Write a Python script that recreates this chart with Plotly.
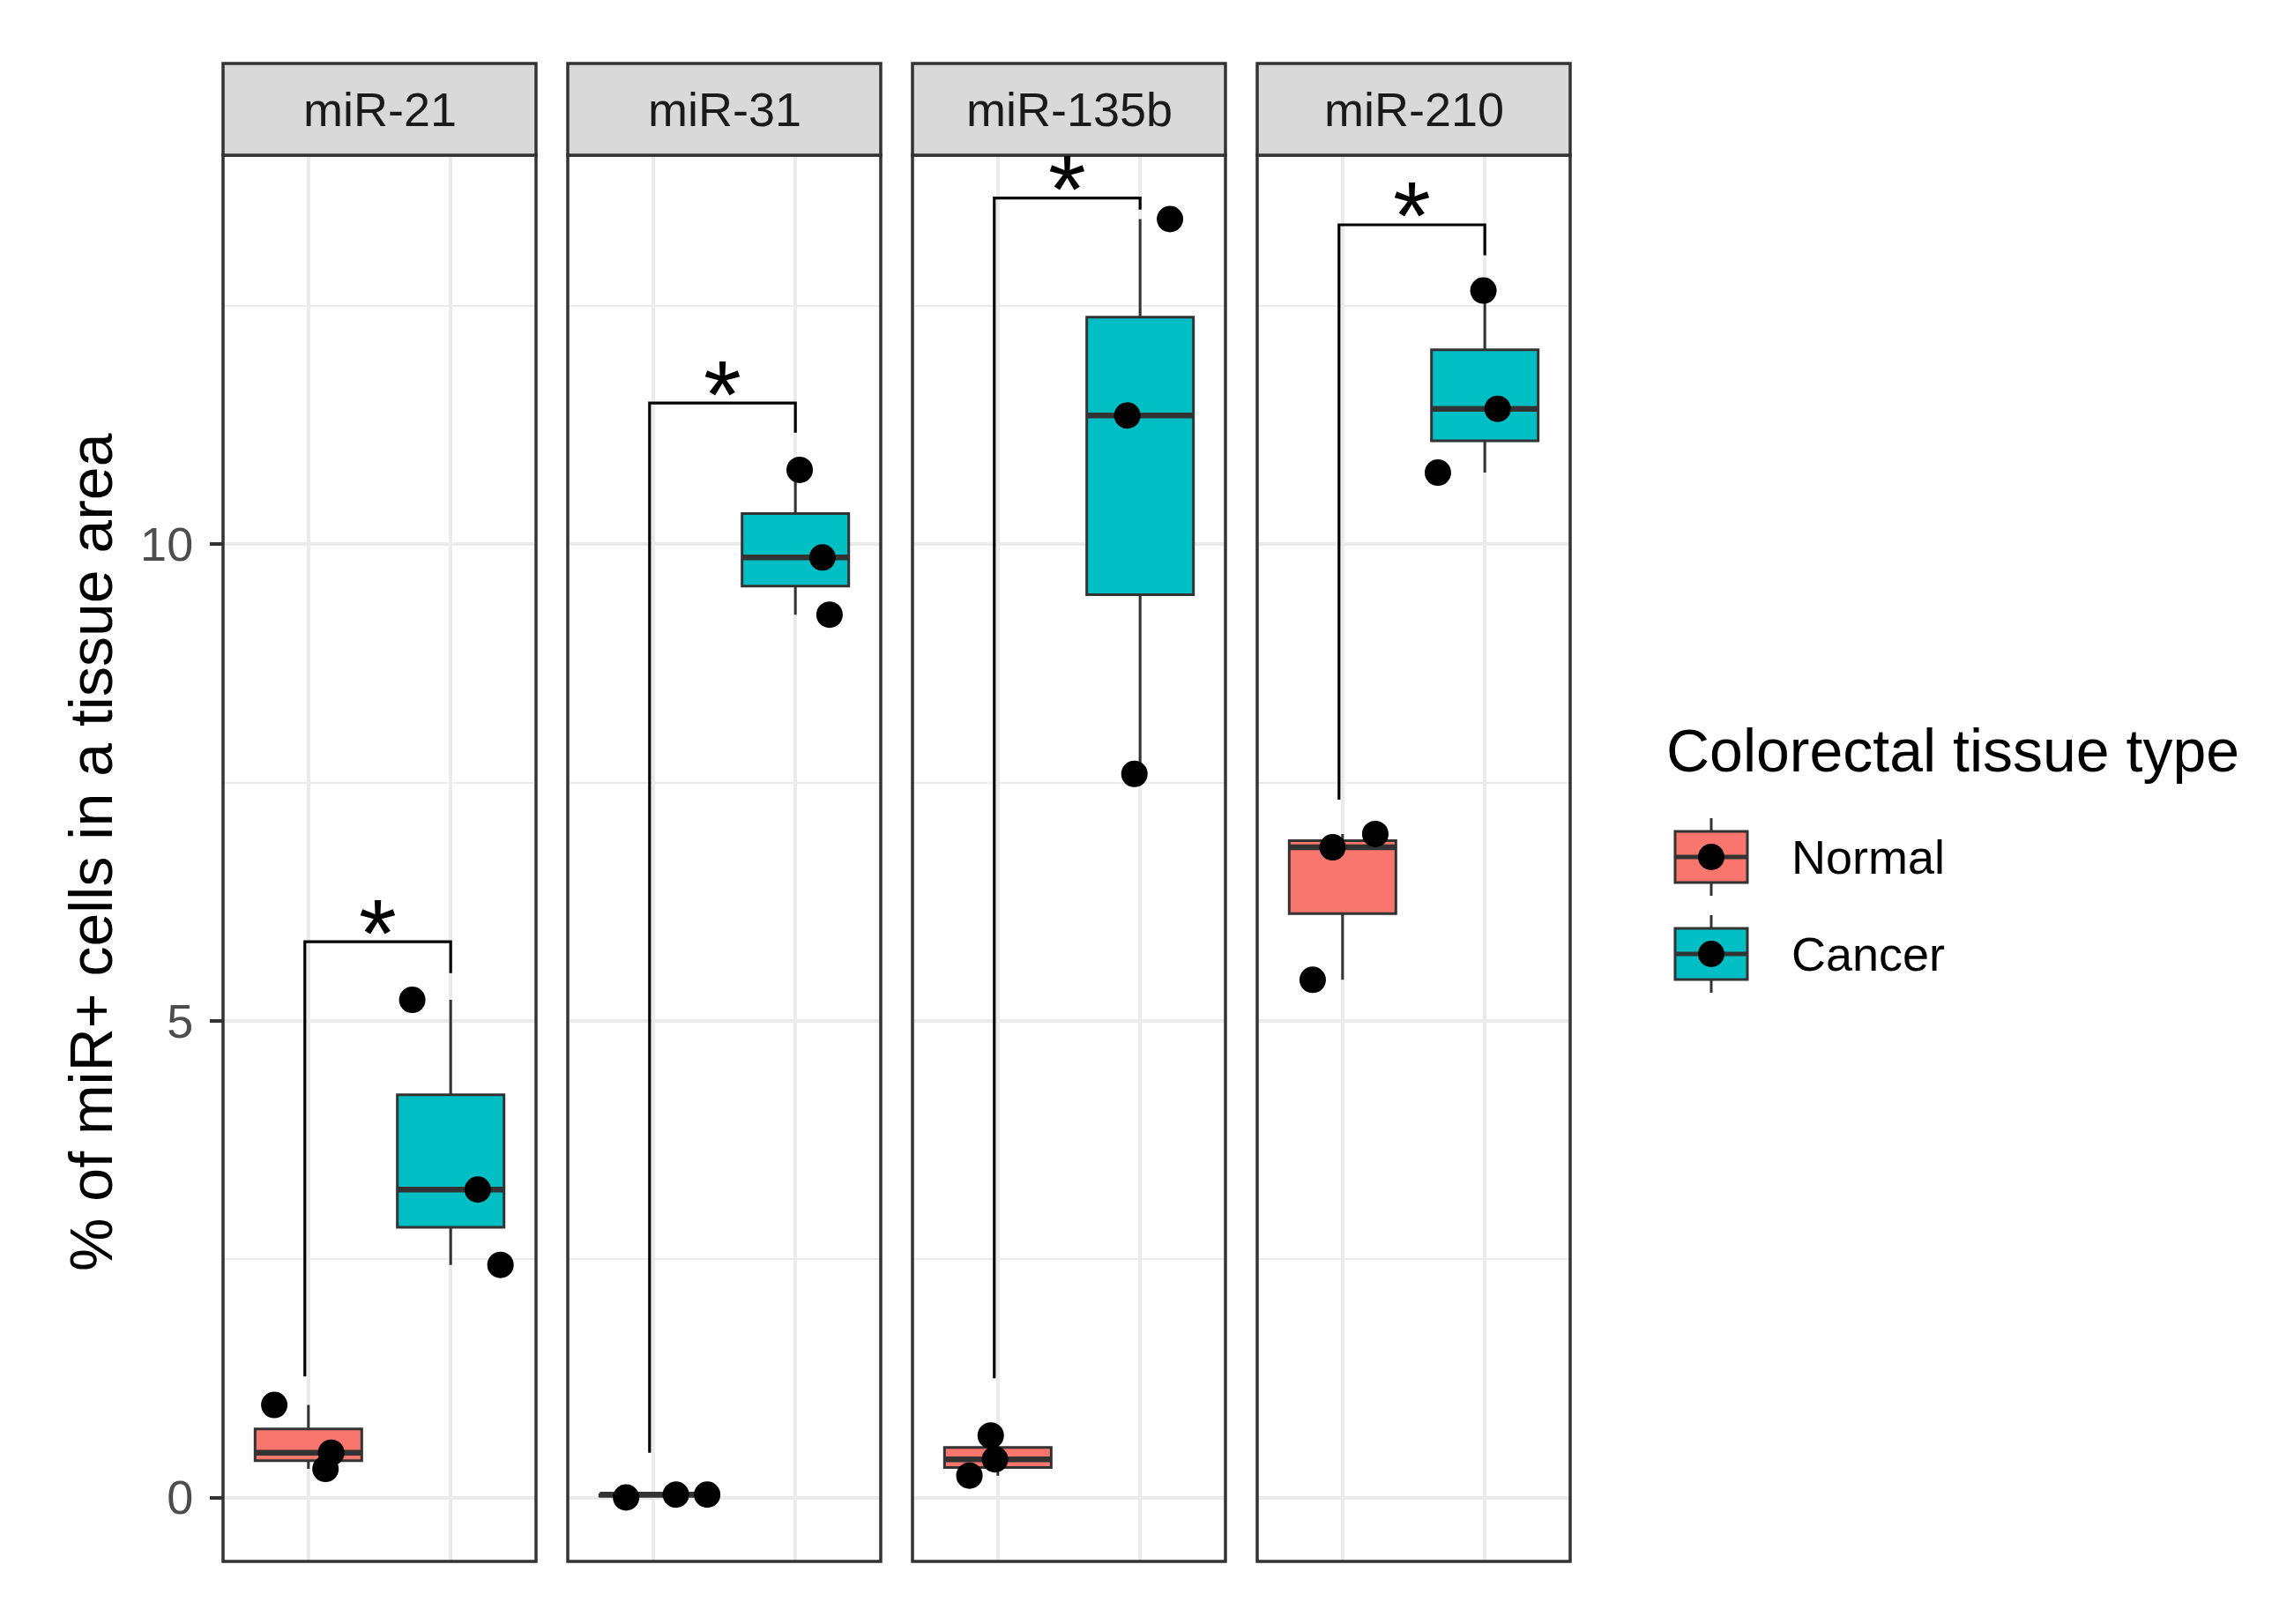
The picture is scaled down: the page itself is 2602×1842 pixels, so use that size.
import numpy as np
import plotly.graph_objects as go

W, H = 2602, 1842

# ---------------- data ----------------
panels = ["miR-21", "miR-31", "miR-135b", "miR-210"]
groups = ["Normal", "Cancer"]
group_pos = [1, 2]

normal_values = {
    "miR-21": [0.97, 0.47, 0.30],
    "miR-31": [0.00, 0.03, 0.03],
    "miR-135b": [0.65, 0.40, 0.23],
    "miR-210": [6.82, 6.96, 5.43],
}
cancer_values = {
    "miR-21": [5.22, 3.23, 2.44],
    "miR-31": [10.78, 9.86, 9.26],
    "miR-135b": [11.35, 7.59, 13.41],
    "miR-210": [12.66, 11.42, 10.75],
}
# horizontal jitter of the dots (category units)
normal_jitter = {
    "miR-21": [-0.24, 0.16, 0.12],
    "miR-31": [-0.19, 0.16, 0.38],
    "miR-135b": [-0.05, -0.02, -0.20],
    "miR-210": [-0.07, 0.23, -0.21],
}
cancer_jitter = {
    "miR-21": [-0.27, 0.19, 0.35],
    "miR-31": [0.03, 0.19, 0.24],
    "miR-135b": [-0.09, -0.04, 0.21],
    "miR-210": [-0.01, 0.09, -0.33],
}
# significance brackets: bar height, end of left tip, end of right tip
bracket_bar = [5.83, 11.48, 13.63, 13.35]
bracket_left_end = [1.27, 0.47, 1.25, 7.32]
bracket_right_end = [5.50, 11.17, 13.51, 13.03]
bracket_label = ["*", "*", "*", "*"]

y_ticks = [0, 5, 10]
y_minor = [2.5, 7.5, 12.5]
y_title = "% of miR+ cells in a tissue area"
legend_title = "Colorectal tissue type"

# ---------------- styling ----------------
colors = {"Normal": "#F8766D", "Cancer": "#00BFC4"}
dark = "#333333"
grid = "#EBEBEB"
FONT = "Liberation Sans"
BOX_W = 0.75

panel_left = [253, 644, 1035, 1426]
panel_right = [608, 999, 1390, 1781]
panel_top, panel_bottom = 176, 1771
strip_top = 72


def px(x):
    return x / W


def py(y):
    return 1 - y / H


all_vals = [v for p in panels for v in normal_values[p] + cancer_values[p]]
vmin, vmax = min(all_vals), max(all_vals)
span = vmax - vmin
y_range = [vmin - 0.05 * span, vmax + 0.05 * span]

fig = go.Figure()
shapes = []
annotations = []

for i, p in enumerate(panels):
    n = "" if i == 0 else str(i + 1)
    xa, ya = "x" + n, "y" + n
    vals = {"Normal": normal_values[p], "Cancer": cancer_values[p]}
    jit = {"Normal": normal_jitter[p], "Cancer": cancer_jitter[p]}
    for g, gx in zip(groups, group_pos):
        fig.add_trace(go.Box(
            x=[gx] * len(vals[g]), y=vals[g], xaxis=xa, yaxis=ya,
            quartilemethod="inclusive", boxpoints=False, width=BOX_W,
            whiskerwidth=0, fillcolor=colors[g],
            line=dict(color=dark, width=3), showlegend=False,
        ))
        med = float(np.median(vals[g]))
        fig.add_trace(go.Scatter(
            x=[gx - BOX_W / 2, gx + BOX_W / 2], y=[med, med], xaxis=xa, yaxis=ya,
            mode="lines", line=dict(color=dark, width=6.5), showlegend=False,
            hoverinfo="skip",
        ))
    for g, gx in zip(groups, group_pos):
        fig.add_trace(go.Scatter(
            x=[gx + j for j in jit[g]], y=vals[g], xaxis=xa, yaxis=ya,
            mode="markers", marker=dict(color="black", size=30, line=dict(width=0)),
            showlegend=False,
        ))
    # bracket
    lx, rx = group_pos[0] - 0.025, group_pos[1]
    fig.add_trace(go.Scatter(
        x=[lx, lx, rx, rx],
        y=[bracket_left_end[i], bracket_bar[i], bracket_bar[i], bracket_right_end[i]],
        xaxis=xa, yaxis=ya, mode="lines", line=dict(color="black", width=3.2),
        showlegend=False, hoverinfo="skip",
    ))
    annotations.append(dict(
        x=(lx + rx) / 2, y=bracket_bar[i], xref=xa, yref=ya, text=bracket_label[i],
        showarrow=False, xanchor="center", yanchor="middle", yshift=11,
        font=dict(family=FONT, size=110, color="black"),
    ))

    axis_common_x = dict(
        domain=[px(panel_left[i]), px(panel_right[i])], range=[0.4, 2.6],
        tickvals=group_pos, showticklabels=False, ticks="", showgrid=True,
        gridcolor=grid, gridwidth=3.5, zeroline=False, showline=False,
        anchor=ya, fixedrange=True,
    )
    axis_common_y = dict(
        domain=[py(panel_bottom), py(panel_top)], range=y_range,
        tickvals=y_ticks, showgrid=True, gridcolor=grid, gridwidth=3.5,
        minor=dict(tickvals=y_minor, showgrid=True, gridcolor=grid, gridwidth=2, ticks=""),
        zeroline=False, showline=False, anchor=xa, fixedrange=True,
    )
    if i == 0:
        axis_common_y.update(
            showticklabels=True, ticks="outside", ticklen=14, tickwidth=3.5,
            tickcolor=dark, ticklabelstandoff=8,
            tickfont=dict(family=FONT, size=54, color="#4D4D4D"),
        )
    else:
        axis_common_y.update(showticklabels=False, ticks="", matches="y")
    fig.update_layout(**{"xaxis" + n: axis_common_x, "yaxis" + n: axis_common_y})

    # panel border
    shapes.append(dict(type="rect", xref=xa + " domain", yref=ya + " domain",
                       x0=0, x1=1, y0=0, y1=1, line=dict(color=dark, width=3.5),
                       fillcolor="rgba(0,0,0,0)", layer="above"))
    # strip
    shapes.append(dict(type="rect", xref="paper", yref="paper",
                       x0=px(panel_left[i]), x1=px(panel_right[i]),
                       y0=py(panel_top), y1=py(strip_top),
                       line=dict(color=dark, width=3.5), fillcolor="#D9D9D9", layer="above"))
    annotations.append(dict(
        x=px((panel_left[i] + panel_right[i]) / 2), y=py((panel_top + strip_top) / 2),
        xref="paper", yref="paper", text=p, showarrow=False,
        xanchor="center", yanchor="middle",
        font=dict(family=FONT, size=54, color="#1A1A1A"),
    ))

# y-axis title
annotations.append(dict(
    x=px(103), y=py(967), xref="paper", yref="paper", text=y_title,
    textangle=-90, showarrow=False, xanchor="center", yanchor="middle",
    font=dict(family=FONT, size=68, color="black"),
))

# ---------------- legend (drawn by hand) ----------------
annotations.append(dict(
    x=px(1888), y=py(851), xref="paper", yref="paper", text=legend_title,
    showarrow=False, xanchor="left", yanchor="middle",
    font=dict(family=FONT, size=68, color="black"),
))
key_x0, key_x1 = 1900, 1982
key_cx = (key_x0 + key_x1) / 2
key_centers = [972, 1082]
key_half = 29
for g, cy in zip(groups, key_centers):
    shapes.append(dict(type="line", xref="paper", yref="paper",
                       x0=px(key_cx), x1=px(key_cx), y0=py(cy - key_half - 15), y1=py(cy + key_half + 15),
                       line=dict(color=dark, width=3)))
    shapes.append(dict(type="rect", xref="paper", yref="paper",
                       x0=px(key_x0), x1=px(key_x1), y0=py(cy + key_half), y1=py(cy - key_half),
                       line=dict(color=dark, width=3), fillcolor=colors[g]))
    shapes.append(dict(type="line", xref="paper", yref="paper",
                       x0=px(key_x0), x1=px(key_x1), y0=py(cy), y1=py(cy),
                       line=dict(color=dark, width=5)))
    shapes.append(dict(type="circle", xref="paper", yref="paper",
                       x0=px(key_cx - 15), x1=px(key_cx + 15), y0=py(cy + 15), y1=py(cy - 15),
                       line=dict(width=0), fillcolor="black"))
    annotations.append(dict(
        x=px(2030), y=py(cy), xref="paper", yref="paper", text=g,
        showarrow=False, xanchor="left", yanchor="middle",
        font=dict(family=FONT, size=54, color="black"),
    ))

fig.update_layout(
    width=W, height=H, margin=dict(l=0, r=0, t=0, b=0),
    paper_bgcolor="white", plot_bgcolor="white",
    boxmode="overlay", showlegend=False,
    shapes=shapes, annotations=annotations,
    font=dict(family=FONT),
)

fig.write_html(
    "out.html",
    config={"displayModeBar": False},
    post_script="document.body.style.margin='0';document.body.style.padding='0';",
)
